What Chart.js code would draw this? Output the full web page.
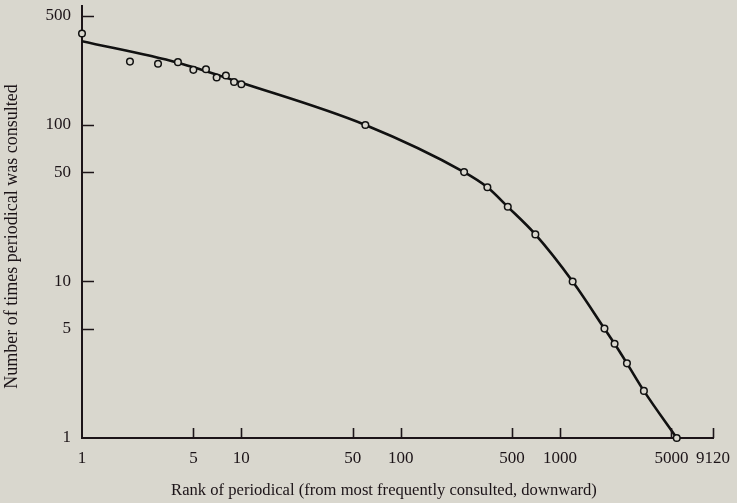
<!DOCTYPE html>
<html>
<head>
<meta charset="utf-8">
<script src="https://cdn.jsdelivr.net/npm/chart.js@4/dist/chart.umd.min.js"></script>
<style>
  html, body { margin: 0; padding: 0; background: #d9d7ce; }
  canvas { display: block; }
</style>
</head>
<body>
<canvas id="c" width="737" height="503"></canvas>
<script>
// Observed consultations per periodical, by rank
const pointRanks  = [1, 2, 3, 4, 5, 6, 7, 8, 9, 10, 60, 250, 350, 470, 700, 1200, 1900, 2200, 2630, 3360, 5400];
const pointCounts = [384, 254, 246, 252, 225, 227, 201, 207, 188, 182, 100, 50, 40, 30, 20, 10, 5, 4, 3, 2, 1];

// Smooth fitted curve through the distribution
const curveRanks  = [1, 4, 10, 60, 250, 350, 470, 700, 1200, 1900, 2200, 2630, 3360, 5400];
const curveCounts = [343, 250, 186, 100, 50, 40, 30, 20, 10, 5, 4, 3, 2, 1];

// Axis ticks
const xTicks = [1, 5, 10, 50, 100, 500, 1000, 5000, 9120];
const yTicks = [1, 5, 10, 50, 100, 500];

const xTitle = 'Rank of periodical (from most frequently consulted, downward)';
const yTitle = 'Number of times periodical was consulted';

const BG = '#d9d7ce';
const INK = '#1c1418';
const SERIF = '"Liberation Serif", "DejaVu Serif", serif';

const toXY = (xs, ys) => xs.map((x, i) => ({ x: x, y: ys[i] }));

// Short tick marks drawn inward from each axis line
const innerTicks = {
  id: 'innerTicks',
  afterDatasetsDraw(chart) {
    const { ctx, chartArea, scales } = chart;
    ctx.save();
    ctx.strokeStyle = INK;
    ctx.lineWidth = 1.6;
    ctx.beginPath();
    scales.x.ticks.forEach(t => {
      if (t.value === 1) return;
      const px = Math.round(scales.x.getPixelForValue(t.value)) + 0.5;
      ctx.moveTo(px, chartArea.bottom);
      ctx.lineTo(px, chartArea.bottom - 10);
    });
    scales.y.ticks.forEach(t => {
      if (t.value === 1) return;
      const py = Math.round(scales.y.getPixelForValue(t.value)) + 0.5;
      ctx.moveTo(chartArea.left, py);
      ctx.lineTo(chartArea.left + 12, py);
    });
    ctx.stroke();
    ctx.restore();
  }
};

// Axis titles, placed within the reserved axis boxes
const axisTitles = {
  id: 'axisTitles',
  afterDraw(chart) {
    const { ctx, scales } = chart;
    ctx.save();
    ctx.fillStyle = INK;
    ctx.textAlign = 'center';
    ctx.textBaseline = 'middle';
    ctx.font = '16.6px ' + SERIF;
    ctx.fillText(xTitle, 384, scales.x.bottom - 12);
    ctx.translate(scales.y.left + 12, 236.5);
    ctx.rotate(-Math.PI / 2);
    ctx.font = '18px ' + SERIF;
    ctx.fillText(yTitle, 0, 0);
    ctx.restore();
  }
};

function fixBox(prop, size) {
  return function (scale) {
    scale[prop] = size;
    scale.paddingTop = 0;
    scale.paddingBottom = 0;
    scale.paddingLeft = 0;
    scale.paddingRight = 0;
  };
}

new Chart(document.getElementById('c'), {
  type: 'scatter',
  data: {
    datasets: [
      {
        label: 'curve',
        data: toXY(curveRanks, curveCounts),
        showLine: true,
        borderColor: '#111',
        borderWidth: 2.6,
        pointRadius: 0,
        pointHoverRadius: 0,
        cubicInterpolationMode: 'monotone',
        fill: false,
        order: 2
      },
      {
        label: 'observed',
        data: toXY(pointRanks, pointCounts),
        showLine: false,
        pointStyle: 'circle',
        pointRadius: 3.3,
        pointBorderWidth: 1.5,
        pointBorderColor: '#111',
        pointBackgroundColor: BG,
        clip: false,
        order: 1
      }
    ]
  },
  options: {
    responsive: false,
    animation: false,
    devicePixelRatio: 1,
    layout: { padding: { top: 4, right: 24, left: 0, bottom: 0 } },
    plugins: { legend: { display: false }, tooltip: { enabled: false } },
    scales: {
      x: {
        type: 'logarithmic',
        min: 1,
        max: 9120,
        afterBuildTicks(scale) { scale.ticks = xTicks.map(v => ({ value: v })); },
        afterFit: fixBox('height', 65),
        ticks: {
          autoSkip: false,
          maxRotation: 0,
          padding: 10,
          color: INK,
          font: { family: SERIF, size: 17 },
          callback: v => String(v)
        },
        grid: { display: true, drawOnChartArea: false, drawTicks: false },
        border: { display: true, color: INK, width: 2 },
        title: { display: false }
      },
      y: {
        type: 'logarithmic',
        min: 1,
        max: 580,
        afterBuildTicks(scale) { scale.ticks = yTicks.map(v => ({ value: v })); },
        afterFit: fixBox('width', 82),
        ticks: {
          autoSkip: false,
          padding: 11,
          color: INK,
          font: { family: SERIF, size: 17 },
          callback: v => String(v)
        },
        grid: { display: true, drawOnChartArea: false, drawTicks: false },
        border: { display: true, color: INK, width: 2 },
        title: { display: false }
      }
    }
  },
  plugins: [innerTicks, axisTitles]
});
</script>
</body>
</html>
